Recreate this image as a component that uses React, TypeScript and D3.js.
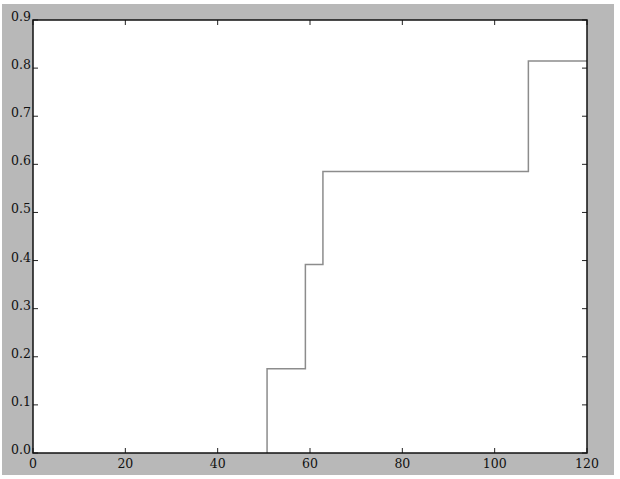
import React, { useEffect, useRef } from 'react';
import * as d3 from 'd3';

const stepX = [50.7, 59.0, 62.8, 107.3, 120];
const stepY = [0.175, 0.392, 0.585, 0.815, 0.815];
const xTicks = [0, 20, 40, 60, 80, 100, 120];
const yTicks = [0, 0.1, 0.2, 0.3, 0.4, 0.5, 0.6, 0.7, 0.8, 0.9];

const App: React.FC = () => {
    const svgRef = useRef<SVGSVGElement>(null);

    useEffect(() => {
        const svg = d3.select(svgRef.current);
        svg.selectAll('*').remove();

        const margin = { top: 20, left: 33 };
        const innerWidth = 587 - margin.left;
        const innerHeight = 453 - margin.top;

        svg.append('rect')
            .attr('x', 2).attr('y', 4)
            .attr('width', 612).attr('height', 471)
            .attr('fill', '#b8b8b8');

        const g = svg.append('g')
            .attr('transform', `translate(${margin.left},${margin.top})`);

        const x = d3.scaleLinear().domain([0, 120]).range([0, innerWidth]);
        const y = d3.scaleLinear().domain([0, 0.9]).range([innerHeight, 0]);

        g.append('rect')
            .attr('width', innerWidth)
            .attr('height', innerHeight)
            .attr('fill', '#fff');

        // empirical step line
        const pts: [number, number][] = [[stepX[0], 0]];
        stepX.forEach((d, i) => pts.push([d, stepY[i]]));
        const line = d3.line<[number, number]>()
            .x(d => x(d[0]))
            .y(d => y(d[1]))
            .curve(d3.curveStepAfter);
        g.append('path')
            .datum(pts)
            .attr('d', line)
            .attr('fill', 'none')
            .attr('stroke', '#8c8c8c')
            .attr('stroke-width', 1.5);

        const font = 'DejaVu Serif';
        const tickLen = 5;

        xTicks.forEach(t => {
            g.append('line')
                .attr('x1', x(t)).attr('x2', x(t))
                .attr('y1', innerHeight).attr('y2', innerHeight - tickLen)
                .attr('stroke', '#222');
            g.append('line')
                .attr('x1', x(t)).attr('x2', x(t))
                .attr('y1', 0).attr('y2', tickLen)
                .attr('stroke', '#222');
            g.append('text')
                .attr('x', x(t))
                .attr('y', innerHeight + 15)
                .attr('text-anchor', 'middle')
                .style('font-family', font)
                .style('font-size', '12.5px')
                .style('fill', '#111')
                .text(d3.format('d')(t));
        });

        yTicks.forEach(t => {
            g.append('line')
                .attr('x1', 0).attr('x2', tickLen)
                .attr('y1', y(t)).attr('y2', y(t))
                .attr('stroke', '#222');
            g.append('line')
                .attr('x1', innerWidth).attr('x2', innerWidth - tickLen)
                .attr('y1', y(t)).attr('y2', y(t))
                .attr('stroke', '#222');
            g.append('text')
                .attr('x', -2)
                .attr('y', y(t) + 1)
                .attr('text-anchor', 'end')
                .style('font-family', font)
                .style('font-size', '12.5px')
                .style('fill', '#111')
                .text(d3.format('.1f')(t));
        });

        g.append('rect')
            .attr('width', innerWidth)
            .attr('height', innerHeight)
            .attr('fill', 'none')
            .attr('stroke', '#111')
            .attr('stroke-width', 1.5);
    }, []);

    return (
        <svg ref={svgRef} width={620} height={479}
            style={{ position: 'absolute', left: 0, top: 0 }}></svg>
    );
};

export default App;
